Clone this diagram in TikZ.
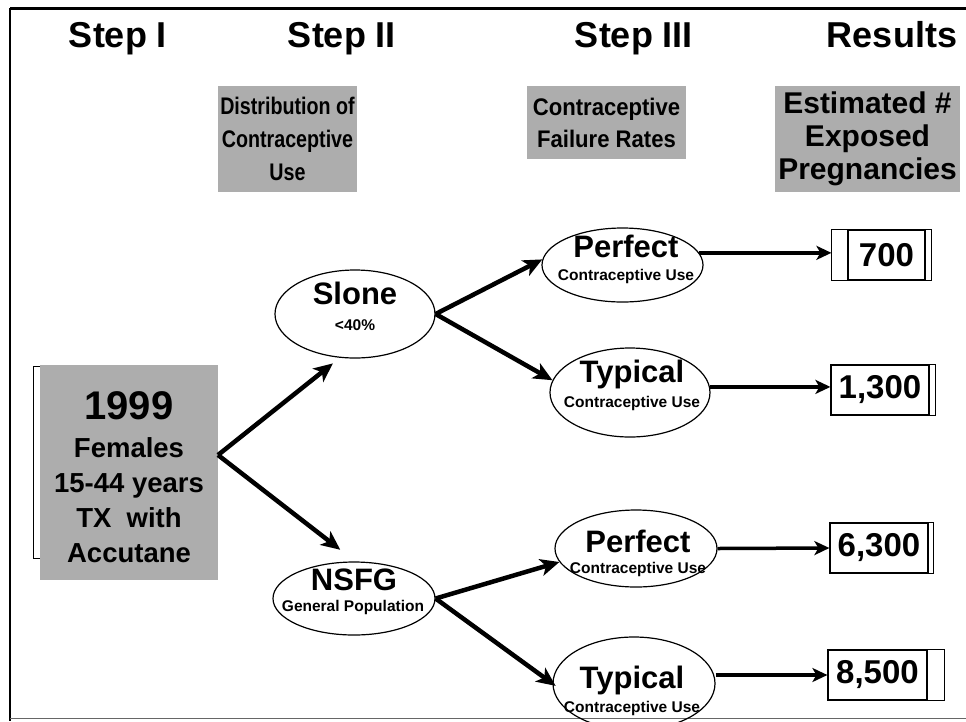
\documentclass[tikz,border=0pt]{standalone}
\usepackage{fontspec}
\setmainfont{Liberation Sans}
\newfontfamily\narrowfont[FakeStretch=0.82]{Liberation Sans}
\newfontfamily\midfont[FakeStretch=0.92]{Liberation Sans}
\usetikzlibrary{arrows.meta,shapes.geometric}
\tikzset{every picture/.style={line width=0.75pt}}
\tikzset{
  heading/.style={font=\fontsize{36}{36}\selectfont\bfseries, anchor=base, inner sep=0pt},
  graybox/.style={draw=none, fill=black!32, inner sep=0pt, align=center},
  oval/.style={draw, ellipse, line width=1.2pt, inner sep=0pt},
  bigtxt/.style={font=\fontsize{31}{31}\selectfont\bfseries, anchor=base, inner sep=0pt},
  smalltxt/.style={font=\fontsize{15.5}{16}\selectfont\bfseries, anchor=base, inner sep=0pt},
  numbox/.style={draw, line width=1.2pt, inner sep=0pt, font=\fontsize{33}{33}\selectfont\bfseries},
  flow/.style={line width=4.5pt, -{Stealth[length=19pt,width=17pt,inset=5pt]}},
  hflow/.style={line width=3.5pt, -{Stealth[length=15pt,width=14pt,inset=4pt]}}
}

\begin{document}
\begin{tikzpicture}[x=1pt,y=1pt,yscale=-1,xscale=1]
\useasboundingbox (0,0) rectangle (966,721);

%Frame
\draw [line width=3pt] (10,8) -- (966,8) ;
\draw [line width=2pt] (10,8) -- (10,721) ;
\draw [line width=1pt, black!60] (10,718) -- (966,718) ;

% Headings
\node [heading] (h1) at (118,47) {Step I};
\node [heading] (h2) at (342,47) {Step II};
\node [heading] (h3) at (634,47) {Step III};
\node [heading] (h4) at (892,47) {Results};

% Gray header boxes
\node [graybox, minimum width=139pt, minimum height=106pt, font=\narrowfont\fontsize{24}{33}\selectfont\bfseries] (distr) at (287.5,139) {Distribution of\\Contraceptive\\Use};
\node [graybox, minimum width=159pt, minimum height=73pt, font=\midfont\fontsize{24}{32}\selectfont\bfseries] (fail) at (606.5,122.5) {Contraceptive\\Failure Rates};
\node [graybox, minimum width=185pt, minimum height=106pt, font=\fontsize{30}{33}\selectfont\bfseries] (estim) at (867.5,139) {Estimated \#\\Exposed\\Pregnancies};

% Population box
\draw (40,366) -- (33,366) -- (33,558) -- (40,558) ;
\node [graybox, minimum width=178pt, minimum height=215pt] (pop) at (129,472.5) {};
\node [graybox, fill=none, anchor=north, font=\fontsize{27.5}{35}\selectfont\bfseries] (pop-t) at (129,391)
  {{\fontsize{40}{40}\selectfont 1999}\\[3pt]Females\\15-44 years\\TX\ \ with\\Accutane};
\coordinate (split) at (218,455);

% Step II ellipses
\node [oval, minimum width=160pt, minimum height=88pt] (slone) at (355,314) {};
\node [bigtxt] (slone-a) at (355,304) {Slone};
\node [smalltxt] (slone-b) at (355,330) {<40\%};

\node [oval, minimum width=162pt, minimum height=73pt] (nsfg) at (354,598.5) {};
\node [bigtxt] (nsfg-a) at (354,590) {NSFG};
\node [smalltxt] (nsfg-b) at (353,611) {General Population};

% Step III ellipses
\node [oval, minimum width=161pt, minimum height=74pt] (perf1) at (622.5,265) {};
\node [bigtxt] (perf1-a) at (626,257) {Perfect};
\node [smalltxt] (perf1-b) at (626,280) {Contraceptive Use};

\node [oval, minimum width=160pt, minimum height=89pt] (typ1) at (630,392.5) {};
\node [bigtxt] (typ1-a) at (632,382) {Typical};
\node [smalltxt] (typ1-b) at (632,407) {Contraceptive Use};

\node [oval, minimum width=162pt, minimum height=77pt] (perf2) at (636,548.5) {};
\node [bigtxt] (perf2-a) at (638,552) {Perfect};
\node [smalltxt] (perf2-b) at (638,573) {Contraceptive Use};

\node [oval, minimum width=162pt, minimum height=93pt] (typ2) at (634,683.5) {};
\node [bigtxt] (typ2-a) at (632,688) {Typical};
\node [smalltxt] (typ2-b) at (632,712) {Contraceptive Use};

% Result boxes
\node [numbox, minimum width=77pt, minimum height=50pt] (r700) at (886.5,255) {700};
\draw [line width=1.2pt] ([xshift=-16pt]r700.north west) rectangle ([xshift=6pt]r700.south east) ;
\node [numbox, minimum width=98pt, minimum height=50pt] (r1300) at (880,390) {1,300};
\draw [line width=1.2pt] (r1300.north east) rectangle ([xshift=6pt]r1300.south east) ;
\node [numbox, minimum width=98pt, minimum height=50pt] (r6300) at (879,548) {6,300};
\draw [line width=1.2pt] (r6300.north east) rectangle ([xshift=5pt]r6300.south east) ;
\node [numbox, minimum width=99pt, minimum height=50pt] (r8500) at (877.5,675) {8,500};
\draw [line width=1.2pt] (r8500.north east) rectangle ([xshift=17pt]r8500.south east) ;

% Arrows
\draw [flow, shorten >=9pt] (split) -- (slone.251) ;
\draw [flow, shorten >=19pt] (split) -- (nsfg.88) ;
\draw [flow] (slone.east) -- (perf1.176) ;
\draw [flow] (slone.east) -- (typ1.171) ;
\draw [flow] (nsfg.east) -- (perf2.190) ;
\draw [flow, shorten >=-4pt] (nsfg.east) -- (typ2.west) ;

\draw [hflow] (perf1.9) -- ([xshift=-16pt]r700.west |- perf1.9) ;
\draw [hflow] (typ1.4) -- (r1300.west |- typ1.4) ;
\draw [hflow] (perf2.east) -- (r6300.west) ;
\draw [hflow] (typ2.east |- r8500.west) -- (r8500.west) ;

\end{tikzpicture}
\end{document}
